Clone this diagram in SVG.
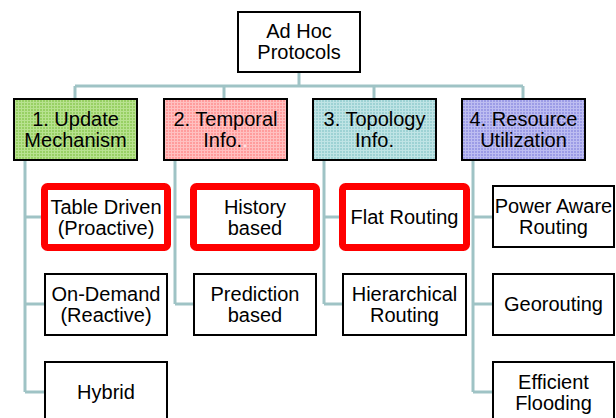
<svg xmlns="http://www.w3.org/2000/svg" width="616" height="418" viewBox="0 0 616 418">
  <defs>
    <!-- fine checked fills for the four category boxes -->
    <pattern id="gridGreen" width="3" height="3" patternUnits="userSpaceOnUse">
      <rect width="3" height="3" fill="#98d064"/>
      <path d="M0 0.5H3M0.5 0V3" stroke="#b8e290" stroke-width="1"/>
    </pattern>
    <pattern id="gridPink" width="3" height="3" patternUnits="userSpaceOnUse">
      <rect width="3" height="3" fill="#ff9c9c"/>
      <path d="M0 0.5H3M0.5 0V3" stroke="#ffc0c0" stroke-width="1"/>
    </pattern>
    <pattern id="gridTeal" width="3" height="3" patternUnits="userSpaceOnUse">
      <rect width="3" height="3" fill="#9ed2d4"/>
      <path d="M0 0.5H3M0.5 0V3" stroke="#c0e4e5" stroke-width="1"/>
    </pattern>
    <pattern id="gridPurple" width="3" height="3" patternUnits="userSpaceOnUse">
      <rect width="3" height="3" fill="#9c9ce6"/>
      <path d="M0 0.5H3M0.5 0V3" stroke="#bdbdf1" stroke-width="1"/>
    </pattern>
  </defs>
  <style>
    .box { fill: #ffffff; stroke: #000000; stroke-width: 2; }
    .cat { stroke: #000000; stroke-width: 2; }
    .hl { fill: #ffffff; stroke: #ff0000; stroke-width: 7; }
    .link { fill: none; stroke: #9fc3c5; stroke-width: 3; }
    text { font-family: "Liberation Sans", Arial, sans-serif; font-size: 20px; fill: #000000; text-anchor: middle; }
  </style>

  <rect width="616" height="418" fill="#ffffff"/>

  <g id="connectors">
    <path class="link" d="M299 72V86M75 86H523M75 86V98M224 86V98M374 86V98M523 86V98"/>
    <path class="link" d="M25 161V392M25 217H44M25 304H44M25 392H44"/>
    <path class="link" d="M175 161V304M175 217H190M175 304H193"/>
    <path class="link" d="M324 161V304M324 217H339M324 304H342"/>
    <path class="link" d="M473 161V392M473 217H492M473 304H492M473 392H492"/>
  </g>

  <g id="root">
    <rect class="box" x="238" y="12" width="122" height="60"/>
    <text x="299" y="38">Ad Hoc</text>
    <text x="299" y="59">Protocols</text>
  </g>

  <g id="update-mechanism">
    <rect class="cat" x="14" y="99" width="123" height="61" fill="url(#gridGreen)"/>
    <text x="75.5" y="125.5">1. Update</text>
    <text x="75.5" y="146.5">Mechanism</text>
  </g>
  <g id="temporal-info">
    <rect class="cat" x="164" y="99" width="123" height="61" fill="url(#gridPink)"/>
    <text x="225.5" y="125.5">2. Temporal</text>
    <text x="225.5" y="146.5">Info.<tspan fill="#ffe4e4">.</tspan></text>
  </g>
  <g id="topology-info">
    <rect class="cat" x="313" y="99" width="123" height="61" fill="url(#gridTeal)"/>
    <text x="374.5" y="125.5">3. Topology</text>
    <text x="374.5" y="146.5">Info.</text>
  </g>
  <g id="resource-utilization">
    <rect class="cat" x="462" y="99" width="123" height="61" fill="url(#gridPurple)"/>
    <text x="523.5" y="125.5">4. Resource</text>
    <text x="523.5" y="146.5">Utilization</text>
  </g>

  <g id="table-driven">
    <rect class="hl" x="44.5" y="186.5" width="123" height="61" rx="3"/>
    <text x="106" y="213.5">Table Driven</text>
    <text x="106" y="234.5">(Proactive)</text>
  </g>
  <g id="on-demand">
    <rect class="box" x="45" y="274" width="122" height="61"/>
    <text x="106" y="301">On-Demand</text>
    <text x="106" y="322">(Reactive)</text>
  </g>
  <g id="hybrid">
    <rect class="box" x="45" y="362" width="122" height="61"/>
    <text x="106" y="399">Hybrid</text>
  </g>

  <g id="history-based">
    <rect class="hl" x="193.5" y="186.5" width="123" height="61" rx="3"/>
    <text x="255" y="213.5">History</text>
    <text x="255" y="234.5">based</text>
  </g>
  <g id="prediction-based">
    <rect class="box" x="194" y="274" width="122" height="61"/>
    <text x="255" y="301">Prediction</text>
    <text x="255" y="322">based</text>
  </g>

  <g id="flat-routing">
    <rect class="hl" x="342.5" y="186.5" width="124" height="61" rx="3"/>
    <text x="404.5" y="224">Flat Routing</text>
  </g>
  <g id="hierarchical-routing">
    <rect class="box" x="343" y="274" width="123" height="61"/>
    <text x="404.5" y="301">Hierarchical</text>
    <text x="404.5" y="322">Routing</text>
  </g>

  <g id="power-aware-routing">
    <rect class="box" x="493" y="186" width="121" height="61"/>
    <text x="553.5" y="213">Power Aware</text>
    <text x="553.5" y="234">Routing</text>
  </g>
  <g id="georouting">
    <rect class="box" x="493" y="274" width="121" height="61"/>
    <text x="553.5" y="311">Georouting</text>
  </g>
  <g id="efficient-flooding">
    <rect class="box" x="493" y="362" width="121" height="61"/>
    <text x="553.5" y="389">Efficient</text>
    <text x="553.5" y="410">Flooding</text>
  </g>
</svg>
